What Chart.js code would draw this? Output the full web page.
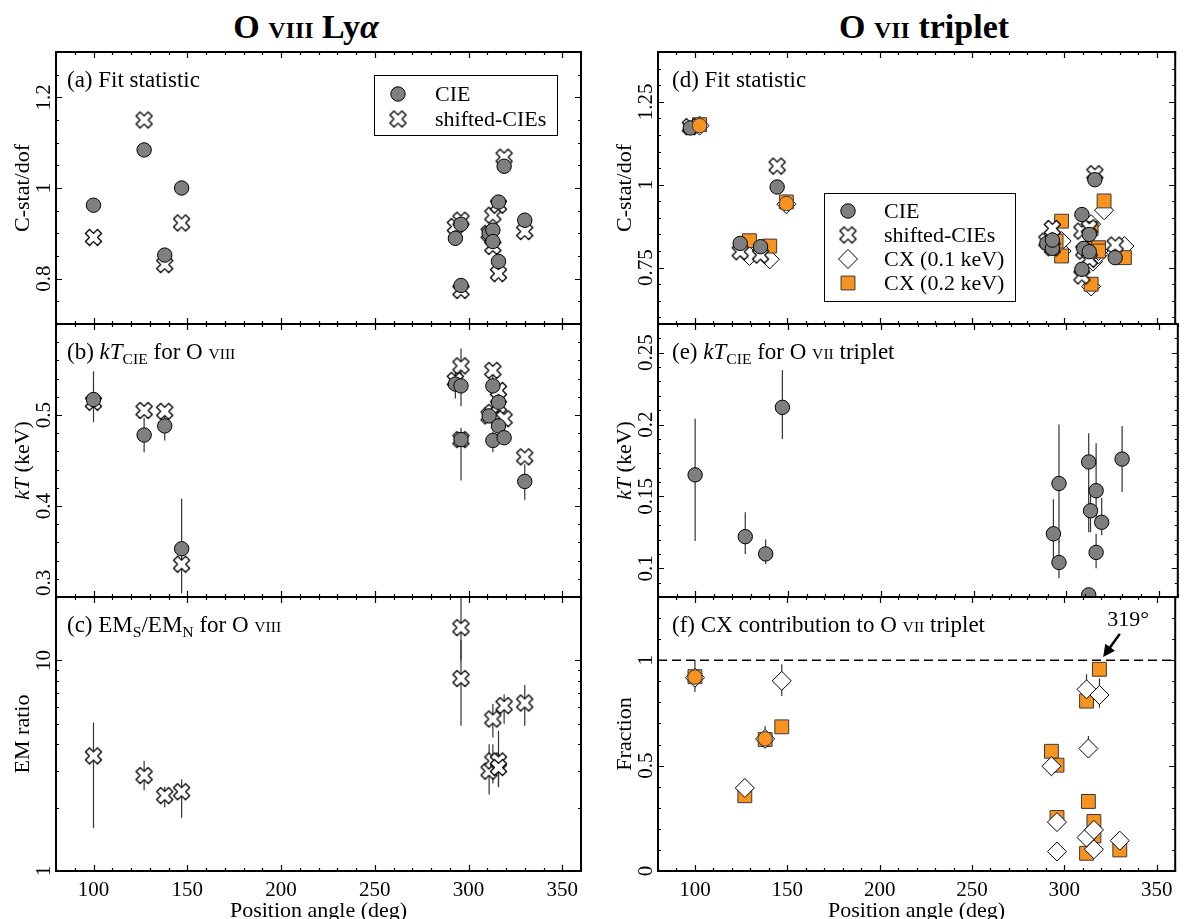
<!DOCTYPE html>
<html>
<head>
<meta charset="utf-8">
<script src="https://cdn.jsdelivr.net/npm/chart.js@4.4.1/dist/chart.umd.min.js"></script>
<style>
  body { margin: 0; background: #fff; width: 1186px; height: 919px; overflow: hidden; position: relative; font-family: "Liberation Serif", "DejaVu Serif", serif; }
  canvas { position: absolute; top: 0; }
  .ttl { position: absolute; top: 7px; line-height: 40px; font-size: 34px; font-weight: bold; transform: translateX(-50%); white-space: nowrap; }
  .ttl .sc { font-size: 24px; }
</style>
</head>
<body>
<div class="ttl" style="left:306px">O <span class="sc">VIII</span> Ly<i>α</i></div>
<div class="ttl" style="left:924px">O <span class="sc">VII</span> triplet</div>
<canvas id="pa"></canvas>
<canvas id="pb"></canvas>
<canvas id="pc"></canvas>
<canvas id="pd"></canvas>
<canvas id="pe"></canvas>
<canvas id="pf"></canvas>
<script>
// ---- data ----
const xTicks = [100, 150, 200, 250, 300, 350];

// O VIII fields (left column)
const angO8 = [100, 127, 138, 147, 293, 296, 296, 311, 313, 313, 316, 316, 319, 330];
const statCieO8 = [0.962, 1.084, 0.852, 1.0, 0.889, 0.920, 0.785, 0.90, 0.907, 0.882, 0.969, 0.838, 1.048, 0.929];
const statShiftO8 = [0.891, 1.150, 0.831, 0.923, 0.915, 0.929, 0.774, 0.90, 0.940, 0.871, 0.962, 0.811, 1.068, 0.904];
const kTCieO8 = [0.517, 0.478, 0.488, 0.353, 0.534, 0.532, 0.473, 0.499, 0.532, 0.472, 0.514, 0.488, 0.475, 0.427];
const kTCieO8Lo = [0.492, 0.459, 0.472, 0.304, 0.518, 0.510, 0.428, 0.493, 0.520, 0.459, 0.505, 0.478, 0.469, 0.407];
const kTCieO8Hi = [0.548, 0.497, 0.499, 0.408, 0.550, 0.573, 0.486, 0.505, 0.545, 0.482, 0.525, 0.498, 0.482, 0.446];
const kTShiftO8 = [0.514, 0.505, 0.504, 0.336, 0.538, 0.554, 0.473, 0.499, 0.549, 0.503, 0.527, 0.510, 0.496, 0.454];
const emRatio = [3.52, 2.84, 2.28, 2.38, null, 14.3, 8.2, 2.98, 5.27, 3.33, 3.33, 3.10, 6.10, 6.28];
const emRatioLo = [1.6, 2.42, 2.0, 1.79, null, 10.0, 4.9, 2.31, 4.3, 2.6, 2.53, 2.5, 5.0, 4.9];
const emRatioHi = [5.07, 3.33, 2.51, 2.72, null, 30, 12.5, 4.0, 6.2, 4.0, 4.63, 3.6, 6.9, 7.65];

// O VII fields (right column)
const angO7 = [100, 127, 138, 147, 293, 296, 296, 312, 312, 313, 316, 316, 319, 330];
const statCieO7 = [1.171, 0.823, 0.813, 0.993, 0.823, 0.808, 0.833, 0.745, 0.910, 0.808, 0.850, 0.798, 1.015, 0.780];
const statShiftO7 = [1.175, 0.798, 0.788, 1.056, 0.830, 0.868, 0.810, 0.725, 0.860, 0.800, 0.870, 0.775, 1.033, 0.818];
const statCx1 = [1.178, 0.785, 0.775, 0.941, 0.820, 0.800, 0.830, 0.693, 0.881, 0.768, 0.790, 0.800, 0.923, 0.815];
const statCx2 = [1.181, 0.831, 0.815, 0.948, 0.830, 0.890, 0.785, 0.700, 0.868, 0.808, 0.810, 0.800, 0.951, 0.780];
const statCx2Dot = [1.178, null, null, 0.943, null, null, null, null, null, null, null, null, null, null];
const kTCieO7 = [0.165, 0.122, 0.110, 0.212, 0.124, 0.104, 0.159, 0.0815, 0.174, 0.140, 0.111, 0.154, 0.132, 0.176];
const kTCieO7Lo = [0.119, 0.110, 0.103, 0.190, 0.101, 0.093, 0.118, 0.075, 0.125, 0.125, 0.100, 0.132, 0.123, 0.153];
const kTCieO7Hi = [0.204, 0.139, 0.120, 0.238, 0.148, 0.119, 0.200, 0.085, 0.194, 0.156, 0.124, 0.187, 0.149, 0.199];
const fracCx1 = [0.917, 0.394, 0.627, 0.902, 0.497, 0.232, 0.092, 0.159, 0.862, 0.581, 0.103, 0.195, 0.835, 0.144];
const fracCx1Lo = [0.849, 0.350, 0.584, 0.830, 0.450, 0.210, 0.085, 0.150, 0.786, 0.537, 0.095, 0.180, 0.775, 0.130];
const fracCx1Hi = [1.0, 0.430, 0.687, 0.981, 0.540, 0.250, 0.100, 0.170, 0.933, 0.640, 0.110, 0.210, 0.913, 0.160];
const fracCx2 = [0.922, 0.357, 0.624, 0.684, 0.568, 0.502, 0.254, 0.084, 0.806, 0.330, 0.235, 0.167, 0.957, 0.100];
const fracCx2Dot = [0.920, null, 0.627, null, null, null, null, null, null, null, null, null, null, null];
const fullLine = [1, 1];

const statTicksO8 = [0.8, 1, 1.2];
const kTTicksO8 = [0.3, 0.4, 0.5];
const emTicks = [1, 10];
const statTicksO7 = [0.75, 1, 1.25];
const kTTicksO7 = [0.1, 0.15, 0.2, 0.25];
const fracTicks = [0, 0.5, 1];

// ---- look ----
const FONT = '"Liberation Serif", "DejaVu Serif", serif';
const ORANGE = '#f7931e';

function makeCross(size) {
  const c = document.createElement('canvas');
  c.width = c.height = size + 4;
  const g = c.getContext('2d');
  g.translate(c.width / 2, c.height / 2);
  g.rotate(Math.PI / 4);
  const a = size * 0.17, s = size * 0.5;
  const p = [[a, s], [a, a], [s, a], [s, -a], [a, -a], [a, -s], [-a, -s], [-a, -a], [-s, -a], [-s, a], [-a, a], [-a, s]];
  g.beginPath();
  p.forEach((q, i) => i ? g.lineTo(q[0], q[1]) : g.moveTo(q[0], q[1]));
  g.closePath();
  g.fillStyle = '#fff';
  g.fill();
  g.lineJoin = 'round';
  g.lineWidth = 1.3;
  g.strokeStyle = '#000';
  g.stroke();
  return c;
}
const crossImg = makeCross(17);

const cieStyle = { pointStyle: 'circle', pointRadius: 7.2, backgroundColor: '#7f7f7f', borderColor: '#000', borderWidth: 1 };
const shiftStyle = { pointStyle: crossImg, pointRadius: 8, backgroundColor: '#fff', borderColor: '#000', borderWidth: 1 };
const cx1Style = { pointStyle: 'rectRot', pointRadius: 9.5, backgroundColor: '#fff', borderColor: '#000', borderWidth: 1 };
const cx2Style = { pointStyle: 'rect', pointRadius: 9.8, backgroundColor: ORANGE, borderColor: '#3a3a3a', borderWidth: 1 };
const dotStyle = { pointStyle: 'circle', pointRadius: 7.2, backgroundColor: ORANGE, borderColor: '#3a3a3a', borderWidth: 1 };

function pts(ang, vals, dx, lo, hi) {
  const out = [];
  vals.forEach((v, i) => {
    if (v == null) return;
    out.push({ x: ang[i] + (dx || 0), y: v, lo: lo ? lo[i] : null, hi: hi ? hi[i] : null });
  });
  return out;
}

function series(label, style, data) {
  return Object.assign({ label, data, clip: 0 }, style);
}

// ---- drawing helpers ----
function drawRich(ctx, segs, x, y, size, align) {
  const parts = segs.map(s => {
    if (typeof s === 'string') s = { t: s };
    const fs = (s.sub || s.sc) ? size * 0.68 : size;
    const font = (s.it ? 'italic ' : '') + fs + 'px ' + FONT;
    ctx.font = font;
    return { t: s.t, font, w: ctx.measureText(s.t).width, dy: s.sub ? size * 0.2 : 0 };
  });
  const total = parts.reduce((a, p) => a + p.w, 0);
  let cx = align === 'center' ? x - total / 2 : x;
  ctx.textAlign = 'left';
  ctx.textBaseline = 'alphabetic';
  parts.forEach(p => { ctx.font = p.font; ctx.fillText(p.t, cx, y + p.dy); cx += p.w; });
}

function drawSymbol(ctx, st, x, y) {
  if (typeof st.pointStyle !== 'string') {
    const im = st.pointStyle;
    ctx.drawImage(im, x - im.width / 2, y - im.height / 2);
    return;
  }
  const r = st.pointRadius;
  ctx.beginPath();
  if (st.pointStyle === 'circle') ctx.arc(x, y, r, 0, Math.PI * 2);
  else if (st.pointStyle === 'rectRot') { ctx.moveTo(x, y - r); ctx.lineTo(x + r, y); ctx.lineTo(x, y + r); ctx.lineTo(x - r, y); ctx.closePath(); }
  else { const h = r * Math.SQRT1_2; ctx.rect(x - h, y - h, 2 * h, 2 * h); }
  ctx.fillStyle = st.backgroundColor;
  ctx.fill();
  ctx.lineWidth = st.borderWidth;
  ctx.strokeStyle = st.borderColor;
  ctx.stroke();
}

function stepTicks(min, max, step) {
  const out = [];
  for (let k = Math.ceil(min / step - 1e-9); k * step <= max + 1e-9; k++) out.push(k * step);
  return out;
}

const errorBars = {
  id: 'errorBars',
  beforeDatasetsDraw(chart) {
    const ctx = chart.ctx, a = chart.chartArea, ys = chart.scales.y;
    ctx.save();
    ctx.beginPath();
    ctx.rect(a.left, a.top, a.right - a.left, a.bottom - a.top);
    ctx.clip();
    ctx.strokeStyle = '#333';
    ctx.lineWidth = 1.2;
    chart.data.datasets.forEach((ds, i) => {
      const meta = chart.getDatasetMeta(i);
      ds.data.forEach((d, j) => {
        if (d.lo == null || d.hi == null) return;
        const px = meta.data[j].x;
        ctx.beginPath();
        ctx.moveTo(px, ys.getPixelForValue(d.lo));
        ctx.lineTo(px, ys.getPixelForValue(d.hi));
        ctx.stroke();
      });
    });
    ctx.restore();
  }
};

function makePanelPlugin(p) {
  return {
    id: 'panel',
    afterDraw(chart) {
      const ctx = chart.ctx, a = chart.chartArea, xs = chart.scales.x, ys = chart.scales.y;
      ctx.save();
      ctx.strokeStyle = '#000';
      ctx.fillStyle = '#000';

      // inward ticks on all four sides
      ctx.lineWidth = 1.2;
      ctx.beginPath();
      stepTicks(80, 360, 10).forEach(v => {
        const px = Math.round(xs.getPixelForValue(v)) + 0.5;
        const len = xTicks.includes(v) ? 6 : 3;
        ctx.moveTo(px, a.bottom); ctx.lineTo(px, a.bottom - len);
        ctx.moveTo(px, a.top); ctx.lineTo(px, a.top + len);
      });
      const yTick = (v, len) => {
        const py = Math.round(ys.getPixelForValue(v)) + 0.5;
        if (py < a.top + 1 || py > a.bottom - 1) return;
        ctx.moveTo(a.left, py); ctx.lineTo(a.left + len, py);
        ctx.moveTo(a.right, py); ctx.lineTo(a.right - len, py);
      };
      p.yMinor.forEach(v => yTick(v, 3));
      p.yMajor.forEach(v => yTick(v, 6));
      ctx.stroke();

      // frame
      ctx.lineWidth = 2;
      ctx.strokeRect(a.left, a.top, a.right - a.left, a.bottom - a.top);

      // y tick labels, rotated
      ctx.font = '21px ' + FONT;
      p.yMajor.forEach(v => {
        const txt = String(v);
        const w = ctx.measureText(txt).width;
        let py = ys.getPixelForValue(v);
        if (!p.bottomRow) py = Math.min(py, a.bottom - w / 2 - 1);
        ctx.save();
        ctx.translate(a.left - 12, py);
        ctx.rotate(-Math.PI / 2);
        ctx.textAlign = 'center';
        ctx.textBaseline = 'middle';
        ctx.fillText(txt, 0, 0);
        ctx.restore();
      });

      // y title
      ctx.save();
      ctx.translate(a.left - 35, (a.top + a.bottom) / 2);
      ctx.rotate(-Math.PI / 2);
      drawRich(ctx, p.yTitle, 0, 7.5, 22, 'center');
      ctx.restore();

      // x tick labels and title on the bottom row
      if (p.bottomRow) {
        ctx.font = '21px ' + FONT;
        ctx.textAlign = 'center';
        ctx.textBaseline = 'middle';
        xTicks.forEach(v => ctx.fillText(String(v), xs.getPixelForValue(v), a.bottom + 19));
        ctx.font = '22px ' + FONT;
        ctx.fillText('Position angle (deg)', (a.left + a.right) / 2, a.bottom + 40);
      }

      // panel caption
      drawRich(ctx, p.caption, a.left + p.capDx, a.top + 35, 23, 'left');

      // legend box
      if (p.legend) {
        const L = p.legend, bx = a.left + L.x, by = a.top + L.y;
        ctx.fillStyle = '#fff';
        ctx.fillRect(bx, by, L.w, L.h);
        ctx.lineWidth = 1;
        ctx.strokeStyle = '#000';
        ctx.strokeRect(bx + 0.5, by + 0.5, L.w, L.h);
        L.items.forEach((lab, i) => {
          const ds = chart.data.datasets.find(d => d.label === lab);
          const yy = by + L.first + i * L.gap;
          drawSymbol(ctx, ds, bx + L.sym, yy);
          ctx.fillStyle = '#000';
          ctx.font = '22px ' + FONT;
          ctx.textAlign = 'left';
          ctx.textBaseline = 'middle';
          ctx.fillText(lab, bx + L.txt, yy + 1);
        });
      }

      // arrow annotation
      if (p.arrow) {
        const A = p.arrow;
        const x0 = xs.getPixelForValue(A.from[0]), y0 = ys.getPixelForValue(A.from[1]);
        const x1 = xs.getPixelForValue(A.to[0]), y1 = ys.getPixelForValue(A.to[1]);
        const ang = Math.atan2(y1 - y0, x1 - x0);
        ctx.strokeStyle = '#000';
        ctx.fillStyle = '#000';
        ctx.lineWidth = 2.5;
        ctx.beginPath();
        ctx.moveTo(x0, y0);
        ctx.lineTo(x1 - 8 * Math.cos(ang), y1 - 8 * Math.sin(ang));
        ctx.stroke();
        ctx.beginPath();
        ctx.moveTo(x1, y1);
        ctx.lineTo(x1 - 12 * Math.cos(ang) + 6 * Math.sin(ang), y1 - 12 * Math.sin(ang) - 6 * Math.cos(ang));
        ctx.lineTo(x1 - 12 * Math.cos(ang) - 6 * Math.sin(ang), y1 - 12 * Math.sin(ang) + 6 * Math.cos(ang));
        ctx.closePath();
        ctx.fill();
        ctx.font = '22px ' + FONT;
        ctx.textAlign = 'center';
        ctx.textBaseline = 'middle';
        ctx.fillText(A.text, xs.getPixelForValue(A.textAt[0]), ys.getPixelForValue(A.textAt[1]));
      }
      ctx.restore();
    }
  };
}

// ---- layout: three rows, two columns ----
const ROWS = [[52, 324], [324, 597], [597, 871]];
const COLS = [{ left: 0, width: 600, x0: 56, x1: 581 }, { left: 600, width: 586, x0: 658, x1: 1182 }];

function makePanel(id, col, row, datasets, p) {
  const c = COLS[col], r = ROWS[row];
  const cv = document.getElementById(id);
  cv.width = c.width;
  cv.height = 919;
  cv.style.left = c.left + 'px';
  p.bottomRow = row === 2;
  return new Chart(cv, {
    type: 'scatter',
    data: { datasets },
    options: {
      responsive: false,
      animation: false,
      events: [],
      devicePixelRatio: 1,
      layout: { padding: { left: c.x0 - c.left, right: c.left + c.width - c.x1, top: r[0], bottom: 919 - r[1] } },
      scales: {
        x: { type: 'linear', min: 80, max: 360, display: false },
        y: { type: p.yType || 'linear', min: p.yMin, max: p.yMax, display: false }
      },
      plugins: { legend: { display: false }, tooltip: { enabled: false } }
    },
    plugins: [errorBars, makePanelPlugin(p)]
  });
}

const OVIII = [' for O ', { t: 'VIII', sc: true }];

makePanel('pa', 0, 0, [
  series('CIE', cieStyle, pts(angO8, statCieO8)),
  series('shifted-CIEs', shiftStyle, pts(angO8, statShiftO8))
], {
  yMin: 0.7, yMax: 1.3, yMajor: statTicksO8, yMinor: stepTicks(0.7, 1.3, 0.05),
  yTitle: ['C-stat/dof'], caption: ['(a) Fit statistic'], capDx: 11,
  legend: { x: 318, y: 23, w: 183, h: 60, sym: 24, txt: 61, first: 19, gap: 25, items: ['CIE', 'shifted-CIEs'] }
});

makePanel('pb', 0, 1, [
  series('CIE', cieStyle, pts(angO8, kTCieO8, 0, kTCieO8Lo, kTCieO8Hi)),
  series('shifted-CIEs', shiftStyle, pts(angO8, kTShiftO8))
], {
  yMin: 0.3, yMax: 0.6, yMajor: kTTicksO8, yMinor: stepTicks(0.3, 0.6, 0.02),
  yTitle: [{ t: 'kT', it: true }, ' (keV)'],
  caption: ['(b) ', { t: 'kT', it: true }, { t: 'CIE', sub: true }].concat(OVIII), capDx: 11
});

makePanel('pc', 0, 2, [
  series('shifted-CIEs', shiftStyle, pts(angO8, emRatio, 0, emRatioLo, emRatioHi))
], {
  yType: 'logarithmic', yMin: 1, yMax: 20, yMajor: emTicks, yMinor: [2, 3, 4, 5, 6, 7, 8, 9, 20],
  yTitle: ['EM ratio'],
  caption: ['(c) EM', { t: 'S', sub: true }, '/EM', { t: 'N', sub: true }].concat(OVIII), capDx: 11
});

makePanel('pd', 1, 0, [
  series('dot', dotStyle, pts(angO7, statCx2Dot, 2.5)),
  series('CIE', cieStyle, pts(angO7, statCieO7, -2.5)),
  series('shifted-CIEs', shiftStyle, pts(angO7, statShiftO7, -2.5)),
  series('CX (0.2 keV)', cx2Style, pts(angO7, statCx2, 2.5)),
  series('CX (0.1 keV)', cx1Style, pts(angO7, statCx1, 2.5))
], {
  yMin: 0.58, yMax: 1.4, yMajor: statTicksO7, yMinor: stepTicks(0.58, 1.4, 0.05),
  yTitle: ['C-stat/dof'], caption: ['(d) Fit statistic'], capDx: 14,
  legend: { x: 166, y: 141, w: 191, h: 108, sym: 24, txt: 60, first: 18, gap: 24,
    items: ['CIE', 'shifted-CIEs', 'CX (0.1 keV)', 'CX (0.2 keV)'] }
});

makePanel('pe', 1, 1, [
  series('CIE', cieStyle, pts(angO7, kTCieO7, 0, kTCieO7Lo, kTCieO7Hi))
], {
  yMin: 0.08, yMax: 0.27, yMajor: kTTicksO7, yMinor: stepTicks(0.08, 0.27, 0.01),
  yTitle: [{ t: 'kT', it: true }, ' (keV)'],
  caption: ['(e) ', { t: 'kT', it: true }, { t: 'CIE', sub: true }, ' for O ', { t: 'VII', sc: true }, ' triplet'], capDx: 14
});

makePanel('pf', 1, 2, [
  series('dot', dotStyle, pts(angO7, fracCx2Dot)),
  series('CX (0.1 keV)', cx1Style, pts(angO7, fracCx1, 0, fracCx1Lo, fracCx1Hi)),
  series('CX (0.2 keV)', cx2Style, pts(angO7, fracCx2)),
  Object.assign(series('unity', {}, [{ x: 80, y: fullLine[0] }, { x: 360, y: fullLine[1] }]), {
    showLine: true, pointRadius: 0, borderColor: '#000', borderWidth: 1.5, borderDash: [9, 5]
  })
], {
  yMin: 0, yMax: 1.3, yMajor: fracTicks, yMinor: stepTicks(0, 1.3, 0.1),
  yTitle: ['Fraction'],
  caption: ['(f) CX contribution to O ', { t: 'VII', sc: true }, ' triplet'], capDx: 14,
  arrow: { from: [330, 1.125], to: [321, 1.015], text: '319°', textAt: [334.5, 1.19] }
});
</script>
</body>
</html>
